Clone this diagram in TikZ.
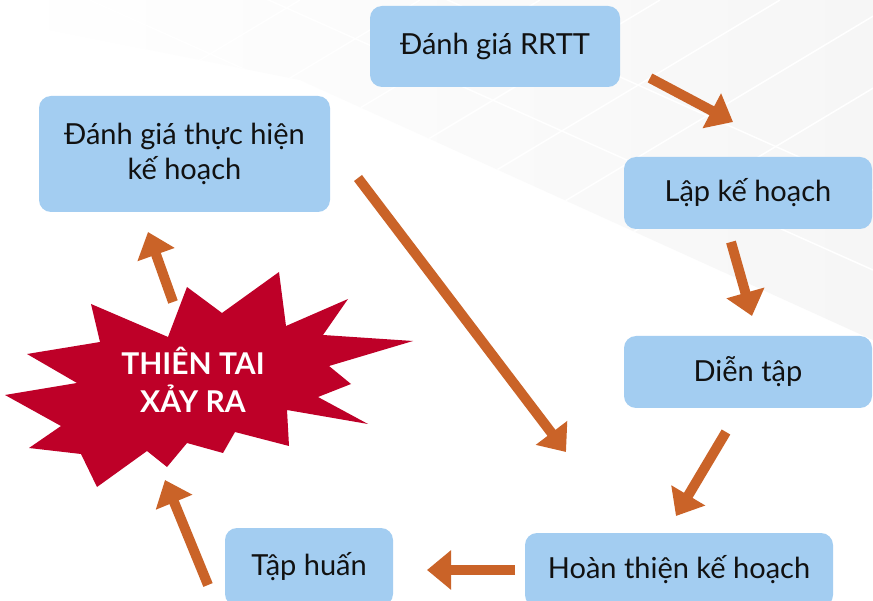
\documentclass[tikz,border=0pt]{standalone}
\usepackage{fontspec}
\setmainfont{Lato}
\usetikzlibrary{arrows.meta}
\definecolor{boxblue}{HTML}{A3CDF1}
\definecolor{arrorange}{HTML}{CA6328}
\definecolor{burstred}{HTML}{BE0028}
\definecolor{bggray}{HTML}{F6F6F6}
\definecolor{txt}{HTML}{111111}
\begin{document}
\begin{tikzpicture}[x=1pt,y=-1pt,
  stepbox/.style={draw=none, fill=boxblue, rounded corners=12pt, inner sep=0pt,
    font=\fontsize{29}{35}\selectfont, align=center, text=txt},
  flow/.style={draw=arrorange, line width=10pt, -{Triangle[length=24pt,width=38pt]}},
  bursttext/.style={font=\bfseries\fontsize{30}{38}\selectfont, align=center, text=white}]
\useasboundingbox (0,0) rectangle (873,601);
\clip (0,0) rectangle (873,601);
\fill[white] (0,0) rectangle (873,601);
% faint background texture
\begin{scope}
  \clip (0,0) -- (873,0) -- (873,340) -- (300,80) -- (0,20) -- cycle;
  \shade[left color=white, right color=bggray] (0,0) rectangle (873,340);
  \foreach \k in {-200,-120,-40,40,120,200,280} {
    \draw[white, line width=1.5pt] (0,\k) -- (873,\k+390);
  }
  \foreach \k in {300,420,540,660,780,900,1020} {
    \draw[white, line width=1.5pt] (\k,0) -- (\k-400,240);
  }
\end{scope}
% boxes
\node[stepbox, minimum width=250pt, minimum height=81pt] (rrtt) at (495,46.5) {Đánh giá RRTT};
\node[stepbox, minimum width=291pt, minimum height=116pt] (eval) at (184.5,154) {Đánh giá thực hiện\\kế hoạch};
\node[stepbox, minimum width=248pt, minimum height=72pt] (plan) at (748,193) {Lập kế hoạch};
\node[stepbox, minimum width=248pt, minimum height=72pt] (drill) at (748,372) {Diễn tập};
\node[stepbox, minimum width=308pt, minimum height=74pt] (final) at (679,570) {Hoàn thiện kế hoạch};
\node[stepbox, minimum width=168pt, minimum height=78pt] (train) at (309,567) {Tập huấn};
% starburst
\fill[burstred] (279,272) -- (286,326) -- (348,299) -- (323,335) -- (413,341) -- (329,366)
  -- (351,384) -- (318,397) -- (368,424) -- (287,410) -- (289,446) -- (235,432)
  -- (223,453) -- (187,443) -- (167,467) -- (147,451) -- (97,487) -- (81,454)
  -- (29,448) -- (61,426) -- (5,395) -- (77,383) -- (27,354) -- (100,342)
  -- (91,304) -- (168,337) -- (187,287) -- (222,313) -- cycle;
\node[bursttext] (burst) at (193,380) {THIÊN TAI\\XẢY RA};
% arrow end points
\coordinate (a1s) at (650,78);  \coordinate (a1e) at (733,122);
\coordinate (a2s) at (731,242); \coordinate (a2e) at (752,316);
\coordinate (a3s) at (726,432); \coordinate (a3e) at (676,516);
\coordinate (a4s) at (515,570); \coordinate (a4e) at (427,570);
\coordinate (a5s) at (208,585); \coordinate (a5e) at (165,480);
\coordinate (a6s) at (173,302); \coordinate (a6e) at (148,232);
\coordinate (a7s) at (358,178); \coordinate (a7e) at (566,452);
\draw[flow] (a1s) -- (a1e);
\draw[flow] (a2s) -- (a2e);
\draw[flow] (a3s) -- (a3e);
\draw[flow] (a4s) -- (a4e);
\draw[flow] (a5s) -- (a5e);
\draw[flow] (a6s) -- (a6e);
\draw[flow] (a7s) -- (a7e);
\end{tikzpicture}
\end{document}
